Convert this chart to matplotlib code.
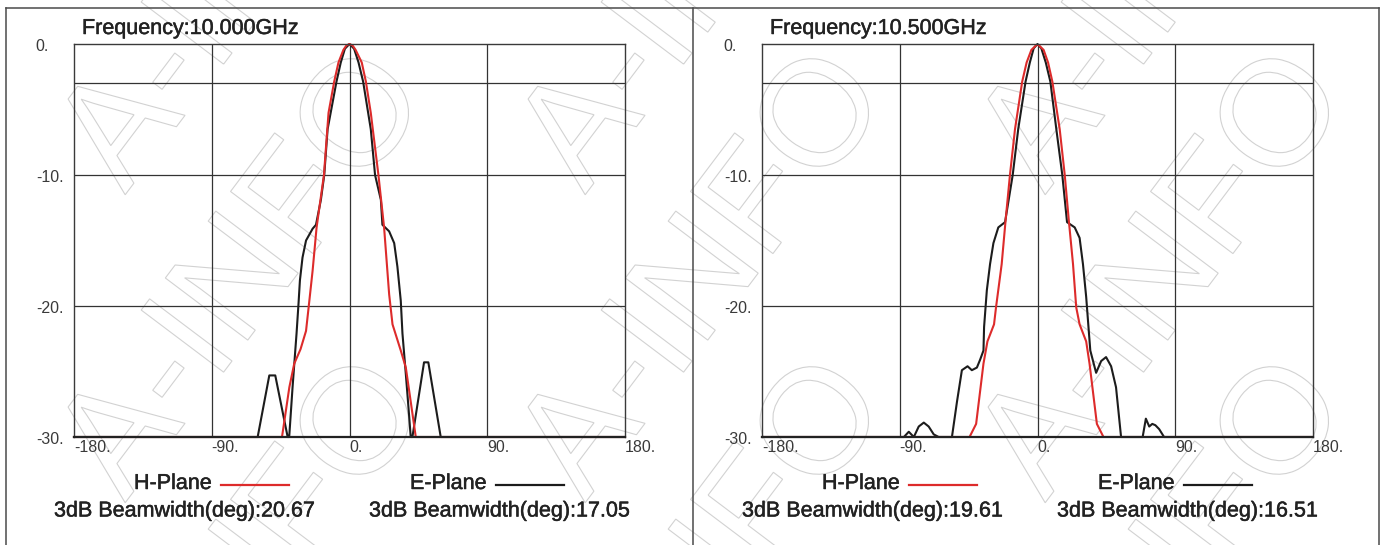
import matplotlib
matplotlib.use('Agg')
import matplotlib.pyplot as plt
from matplotlib.lines import Line2D
from matplotlib.textpath import TextPath
from matplotlib.patches import PathPatch
from matplotlib.font_manager import FontProperties
from matplotlib.transforms import Affine2D
import matplotlib.patheffects as pe

plt.rcParams['font.family'] = ['Liberation Sans', 'DejaVu Sans']

# 10.000 GHz, H-plane (red) and E-plane (black), angle [deg] / gain [dB]
h10_ang = [-180, -44.1, -39.3, -36.1, -32.0, -28.4, -26.7, -24.1, -21.5, -16.7, -13.7,
           -10.0, -7.2, -4.0, -2.0, 0, 2.0, 4.0, 8.0, 10.7, 13.9, 18.9, 22.6, 25.9,
           28.1, 33.5, 36.8, 40.0, 43.3, 180]
h10_db = [-30, -30, -26.2, -24.4, -23.3, -21.9, -20.1, -17.3, -14.0, -10.0, -5.25,
          -2.87, -1.41, -0.45, -0.11, 0, -0.11, -0.45, -1.41, -2.87, -5.25, -10.0, -14.0, -19.1,
          -21.4, -23.4, -24.7, -27.3, -30, -30]
e10_ang = [-180, -60.0, -52.4, -48.5, -40.4, -39.4, -37.2, -34.6, -33.3, -32.4, -30.7,
           -28.4, -24.1, -21.9, -18.7, -16.5, -14.3, -8.5, -5.7, -3.0, 0, 3.0, 5.9, 8.9,
           13.9, 16.7, 20.5, 21.5, 25.9, 29.2, 31.3, 33.5, 34.6, 36.8, 38.9, 40.0, 41.1,
           48.7, 51.5, 59.6, 180]
e10_db = [-30, -30, -25.3, -25.3, -30, -30, -26.2, -22.1, -19.8, -18.05, -16.3,
          -15.0, -14.1, -13.8, -11.9, -10.0, -6.5, -2.87, -1.41, -0.36, 0, -0.36, -1.41, -2.87,
          -6.5, -10.0, -11.9, -13.8, -14.3, -15.2, -17.0, -19.6, -22.1, -25.2, -28.3, -30, -30,
          -24.3, -24.3, -30, -30]

# 10.500 GHz
h105_ang = [-180, -44.4, -40.1, -35.3, -32.7, -28.4, -27.1, -23.4, -20.8, -18.0, -14.7,
            -10.0, -7.1, -4.0, 0, 4.0, 6.9, 9.7, 14.5, 17.8, 20.4, 23.2, 25.3, 27.5,
            31.8, 34.0, 38.8, 43.1, 180]
h105_db = [-30, -30, -29.0, -24.4, -22.7, -21.4, -20.1, -16.8, -13.4, -10.0, -6.5,
           -2.87, -1.41, -0.45, 0, -0.45, -1.41, -2.87, -6.5, -10.0, -13.4, -16.8, -20.1, -21.4,
           -22.7, -24.4, -29.0, -30, -30]
e105_ang = [-180, -87.3, -84.1, -80.8, -77.6, -74.3, -71.1, -67.8, -64.6, -55.9, -52.6,
            -49.4, -45.7, -42.9, -39.6, -37.5, -35.3, -34.9, -33.1, -31.0, -28.8, -25.6,
            -21.2, -16.2, -12.6, -7.8, -5.0, -2.5, 0, 2.5, 5.4, 8.4, 12.3, 16.2, 19.3,
            24.3, 27.5, 29.7, 31.8, 33.5, 34.5, 38.3, 41.6, 44.8, 48.1, 51.3, 54.6,
            68.7, 70.8, 73.0, 75.0, 77.0, 79.5, 82.7, 180]
e105_db = [-30, -30, -29.6, -30, -29.2, -28.9, -29.2, -29.8, -30, -30, -27.3,
           -24.9, -24.6, -24.9, -24.7, -24.1, -23.4, -21.6, -18.8, -16.8, -15.2, -14.0,
           -13.6, -10.0, -6.5, -2.87, -1.41, -0.33, 0, -0.33, -1.41, -2.87, -6.5, -10.0, -13.6,
           -14.0, -14.8, -16.8, -19.3, -21.9, -23.4, -25.1, -24.2, -23.9, -24.6, -26.2, -30,
           -30, -28.6, -29.2, -29.0, -29.1, -29.4, -30, -30]

freq_labels = ['Frequency:10.000GHz', 'Frequency:10.500GHz']
h_beamwidth = ['20.67', '19.61']
e_beamwidth = ['17.05', '16.51']
x_ticks = [-180, -90, 0, 90, 180]
y_labels = [0, -10, -20, -30]
grid_x = [-90, 0, 90]
grid_y = [-3, -10, -20]

series = [(h10_ang, h10_db, e10_ang, e10_db), (h105_ang, h105_db, e105_ang, e105_db)]

RED = '#dd2b2b'
BLACK = '#1c1c1c'
TXT = '#222222'
bold_fx = [pe.withStroke(linewidth=0.35, foreground=TXT)]

W, H = 1385, 545
fig = plt.figure(figsize=(W / 100, H / 100), dpi=100)
fig.patch.set_facecolor('white')


def fx(x):
    return x / W


def fy(y):
    return 1 - y / H


# faint "A-INFO" watermark, outlined letters in pixel space
wm_path = TextPath((0, 0), 'A-INFO', size=150, prop=FontProperties(family='Liberation Sans'))
for j in range(-1, 3):
    for k in range(-1, 4):
        sx = 125 + 460 * k
        sy = 195 + 308 * j
        tr = Affine2D().rotate_deg(53).translate(sx, H - sy)
        fig.add_artist(PathPatch(wm_path, transform=tr, facecolor='none',
                                 edgecolor='#d2d2d2', lw=0.8, zorder=-1))

# outer frame and panel divider
frame = '#4a4a4a'
fig.add_artist(Line2D([fx(6), fx(1379)], [fy(8), fy(8)], transform=fig.transFigure, color=frame, lw=1.1))
for xf in [6, 692.5, 1379]:
    fig.add_artist(Line2D([fx(xf), fx(xf)], [fy(8), 0], transform=fig.transFigure, color=frame, lw=1.1))

ax_lefts = [74, 762]
ax_top, ax_bot, ax_w = 44, 437, 551

for i, (x0, (ha, hd, ea, ed)) in enumerate(zip(ax_lefts, series)):
    ax = fig.add_axes([fx(x0), fy(ax_bot), ax_w / W, (ax_bot - ax_top) / H])
    ax.patch.set_alpha(0)
    ax.set_xlim(-180, 180)
    ax.set_ylim(-30, 0)
    ax.set_xticks([])
    ax.set_yticks([])
    for g in grid_x:
        ax.axvline(g, color='#333333', lw=0.9, zorder=1)
    for g in grid_y:
        ax.axhline(g, color='#333333', lw=0.9, zorder=1)

    ax.plot(ea, ed, color=BLACK, lw=1.5, zorder=3, clip_on=False)
    ax.plot(ha, hd, color=RED, lw=1.5, zorder=3, clip_on=(i == 1),
            solid_capstyle='projecting')

    for s in ['top', 'left', 'right']:
        ax.spines[s].set_color('#3a3a3a')
        ax.spines[s].set_linewidth(1.0)
    ax.spines['bottom'].set_color('#222222')
    ax.spines['bottom'].set_linewidth(1.6)
    for s in ax.spines.values():
        s.set_zorder(4)

    for t in x_ticks:
        ax.annotate(f'{t}.', xy=(t, 0), xycoords=('data', 'axes fraction'),
                    xytext=(0, -2.5), textcoords='offset points',
                    ha='left', va='top', fontsize=11.5, color='#3a3a3a')
    for v in y_labels:
        ax.annotate(f'{v}.', xy=(0, v), xycoords=('axes fraction', 'data'),
                    xytext=(-27.5, -1.5), textcoords='offset points',
                    ha='left', va='center', fontsize=11.5, color='#3a3a3a')

    # title and legend block
    fig.text(fx(x0 + 8), fy(34), freq_labels[i], fontsize=15.5, color=TXT,
             va='baseline', path_effects=bold_fx)
    fig.text(fx(x0 + 60), fy(489), 'H-Plane', fontsize=15.5, color=TXT,
             va='baseline', path_effects=bold_fx)
    fig.add_artist(Line2D([fx(x0 + 147), fx(x0 + 215)], [fy(484.5), fy(484.5)],
                          transform=fig.transFigure, color=RED, lw=1.6))
    fig.text(fx(x0 + 336), fy(489), 'E-Plane', fontsize=15.5, color=TXT,
             va='baseline', path_effects=bold_fx)
    fig.add_artist(Line2D([fx(x0 + 422), fx(x0 + 490)], [fy(484.5), fy(484.5)],
                          transform=fig.transFigure, color=BLACK, lw=1.6))
    fig.text(fx(x0 - 20), fy(516.5), f'3dB Beamwidth(deg):{h_beamwidth[i]}',
             fontsize=15.5, color=TXT, va='baseline', path_effects=bold_fx)
    fig.text(fx(x0 + 295), fy(516.5), f'3dB Beamwidth(deg):{e_beamwidth[i]}',
             fontsize=15.5, color=TXT, va='baseline', path_effects=bold_fx)

fig.savefig('out.png', dpi=100)
